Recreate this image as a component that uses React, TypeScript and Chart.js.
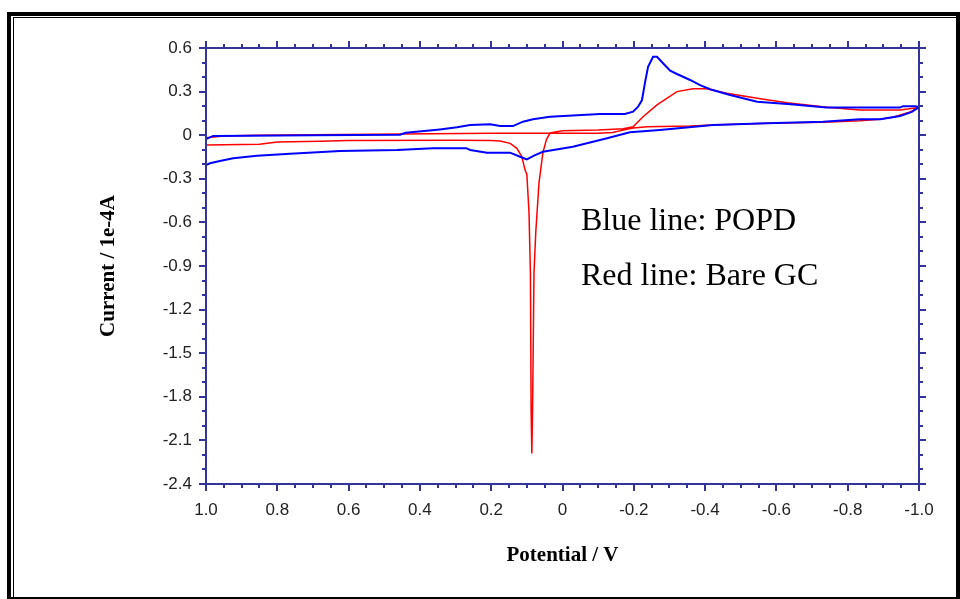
import React, { useEffect, useRef } from 'react';
import { Chart, registerables } from 'chart.js';

Chart.register(...registerables);

// ---- Data (Potential / V, Current / 1e-4 A) ----
// Blue line: POPD, forward scan (+1.0 -> -1.0)
const popdFwdE = [1.0, 0.989, 0.961, 0.924, 0.857, 0.764, 0.624, 0.464, 0.363, 0.27, 0.259, 0.212, 0.147, 0.119, 0.1, 0.08, 0.055, -0.029, -0.125, -0.189, -0.273, -0.422, -0.574, -0.731, -0.834, -0.891, -0.947, -0.98, -1.0];
const popdFwdI = [-0.205, -0.193, -0.178, -0.159, -0.141, -0.127, -0.109, -0.102, -0.089, -0.089, -0.102, -0.12, -0.12, -0.148, -0.166, -0.14, -0.114, -0.079, -0.021, 0.02, 0.036, 0.07, 0.082, 0.093, 0.11, 0.11, 0.132, 0.16, 0.194];
// Blue line: POPD, return scan (-1.0 -> +1.0)
const popdRetE = [-1.0, -0.99, -0.955, -0.947, -0.74, -0.64, -0.546, -0.47, -0.414, -0.386, -0.358, -0.321, -0.302, -0.282, -0.265, -0.254, -0.24, -0.231, -0.223, -0.212, -0.198, -0.175, -0.105, 0.035, 0.083, 0.111, 0.139, 0.175, 0.203, 0.259, 0.296, 0.344, 0.44, 0.456, 0.7, 0.98, 1.0];
const popdRetI = [0.194, 0.2, 0.2, 0.19, 0.19, 0.213, 0.23, 0.277, 0.316, 0.345, 0.38, 0.421, 0.444, 0.495, 0.54, 0.54, 0.471, 0.357, 0.242, 0.196, 0.162, 0.146, 0.146, 0.127, 0.11, 0.093, 0.063, 0.063, 0.075, 0.07, 0.054, 0.04, 0.017, 0.003, 0.0, -0.005, -0.027];
// Red line: Bare GC, forward scan
const bareFwdE = [1.0, 0.85, 0.8, 0.68, 0.6, 0.3, 0.2, 0.175, 0.147, 0.128, 0.114, 0.105, 0.1, 0.094, 0.09, 0.088, 0.086, 0.084, 0.08, 0.075, 0.066, 0.055, 0.045, 0.035, 0.0, -0.1, -0.17, -0.198, -0.226, -0.265, -0.321, -0.366, -0.405, -0.461, -0.546, -0.63, -0.742, -0.834, -0.947, -1.0];
const bareFwdI = [-0.068, -0.062, -0.047, -0.042, -0.036, -0.035, -0.037, -0.04, -0.056, -0.09, -0.148, -0.24, -0.27, -0.53, -0.95, -1.9, -2.19, -1.9, -0.95, -0.67, -0.33, -0.12, -0.03, 0.015, 0.03, 0.036, 0.045, 0.058, 0.127, 0.208, 0.3, 0.32, 0.32, 0.288, 0.254, 0.224, 0.192, 0.173, 0.173, 0.19];
// Red line: Bare GC, return scan
const bareRetE = [-1.0, -0.975, -0.927, -0.891, -0.834, -0.731, -0.574, -0.422, -0.358, -0.237, -0.198, -0.17, -0.14, -0.1, 0.2, 0.45, 0.7, 0.85, 0.95, 1.0];
const bareRetI = [0.19, 0.16, 0.123, 0.11, 0.1, 0.089, 0.082, 0.07, 0.063, 0.058, 0.05, 0.035, 0.018, 0.013, 0.013, 0.008, 0.003, 0.0, -0.005, -0.017];

const xTickValues = [1.0, 0.8, 0.6, 0.4, 0.2, 0, -0.2, -0.4, -0.6, -0.8, -1.0];
const yTickValues = [0.6, 0.3, 0, -0.3, -0.6, -0.9, -1.2, -1.5, -1.8, -2.1, -2.4];
const legendLines = ['Blue line: POPD', 'Red line: Bare GC'];
const xTitle = 'Potential / V';
const yTitle = 'Current / 1e-4A';

const W = 960;
const H = 599;
const AXIS_COLOR = '#333399';
const fmt = (v: number) => (Math.abs(v) < 1e-9 ? '0' : v.toFixed(1));

export default function App() {
  const ref = useRef<HTMLCanvasElement>(null);

  useEffect(() => {
    document.body.style.margin = '0';
    const canvas = ref.current!;
    const pts = (xs: number[], ys: number[]) => xs.map((x, i) => ({ x, y: ys[i] }));

    const decor = {
      id: 'decor',
      beforeDraw(chart: any) {
        const ctx = chart.ctx;
        ctx.save();
        ctx.fillStyle = '#ffffff';
        ctx.fillRect(0, 0, W, H);
        ctx.restore();
      },
      afterDatasetsDraw(chart: any) {
        const ctx = chart.ctx;
        const xs = chart.scales.x;
        const ys = chart.scales.y;
        const { left, right, top, bottom } = chart.chartArea;
        ctx.save();
        ctx.strokeStyle = AXIS_COLOR;
        ctx.lineWidth = 2;
        ctx.beginPath();
        ctx.rect(left, top, right - left, bottom - top);
        ctx.stroke();
        ctx.beginPath();
        for (let i = 0; i <= 40; i++) {
          const v = 1.0 - i * 0.05;
          const px = Math.round(xs.getPixelForValue(v));
          const len = i % 4 === 0 ? 7 : 4;
          ctx.moveTo(px, bottom);
          ctx.lineTo(px, bottom + len);
          ctx.moveTo(px, top);
          ctx.lineTo(px, top - len);
        }
        for (let i = 0; i <= 30; i++) {
          const v = 0.6 - i * 0.1;
          const py = Math.round(ys.getPixelForValue(v));
          const len = i % 3 === 0 ? 7 : 4;
          ctx.moveTo(left, py);
          ctx.lineTo(left - len, py);
          ctx.moveTo(right, py);
          ctx.lineTo(right + len, py);
        }
        ctx.stroke();
        ctx.restore();
      },
      afterDraw(chart: any) {
        const ctx = chart.ctx;
        ctx.save();
        ctx.fillStyle = '#000';
        ctx.font = '32px "Liberation Serif", "Times New Roman", serif';
        ctx.textBaseline = 'middle';
        ctx.textAlign = 'left';
        ctx.fillText(legendLines[0], 581, 222);
        ctx.fillText(legendLines[1], 581, 277);
        // frame
        ctx.fillRect(7, 12, W - 7, 4);
        ctx.fillRect(7, 12, 4, H - 12);
        ctx.fillRect(956, 12, 4, H - 12);
        ctx.fillRect(7, 597, W - 7, 2);
        ctx.fillRect(13, 17, 943, 1);
        ctx.fillRect(13, 17, 1, H - 17);
        ctx.restore();
      },
    };

    const tickFont = { family: '"Liberation Sans", Arial, sans-serif', size: 17 };
    const titleFont = { family: '"Liberation Serif", "Times New Roman", serif', size: 21, weight: 'bold' as const };

    const chart = new Chart(canvas, {
      type: 'scatter',
      data: {
        datasets: [
          {
            label: 'POPD',
            data: [...pts(popdFwdE, popdFwdI), ...pts(popdRetE, popdRetI)],
            showLine: true,
            borderColor: '#0000ff',
            borderWidth: 2,
            pointRadius: 0,
            tension: 0,
            fill: false,
          },
          {
            label: 'Bare GC',
            data: [...pts(bareFwdE, bareFwdI), ...pts(bareRetE, bareRetI)],
            showLine: true,
            borderColor: '#ff0000',
            borderWidth: 1.5,
            pointRadius: 0,
            tension: 0,
            fill: false,
          },
        ],
      },
      options: {
        responsive: false,
        animation: false,
        devicePixelRatio: 1,
        layout: { padding: { left: 96, top: 48, right: 41, bottom: 30 } },
        plugins: { legend: { display: false }, tooltip: { enabled: false }, title: { display: false } },
        scales: {
          x: {
            type: 'linear',
            min: -1.0,
            max: 1.0,
            reverse: true,
            grid: { display: false, drawTicks: false },
            border: { display: false },
            afterBuildTicks: (s: any) => { s.ticks = xTickValues.map((v) => ({ value: v })); },
            afterFit: (s: any) => { s.height = 85; },
            ticks: { color: '#222', font: tickFont, padding: 16, maxRotation: 0, autoSkip: false, callback: (v: any) => fmt(Number(v)) },
            title: { display: true, text: xTitle, color: '#000', font: titleFont, padding: { top: 0, bottom: 1 } },
          },
          y: {
            type: 'linear',
            min: -2.4,
            max: 0.6,
            grid: { display: false, drawTicks: false },
            border: { display: false },
            afterBuildTicks: (s: any) => { s.ticks = yTickValues.map((v) => ({ value: v })); },
            afterFit: (s: any) => { s.width = 110; },
            ticks: { color: '#222', font: tickFont, padding: 14, autoSkip: false, callback: (v: any) => fmt(Number(v)) },
            title: { display: true, text: yTitle, color: '#000', font: titleFont, padding: { top: 0, bottom: 0 } },
          },
        },
      },
      plugins: [decor],
    });
    return () => chart.destroy();
  }, []);

  return (
    <div style={{ position: 'absolute', left: 0, top: 0, width: W, height: H }}>
      <canvas ref={ref} width={W} height={H} style={{ display: 'block', width: W, height: H }} />
    </div>
  );
}
